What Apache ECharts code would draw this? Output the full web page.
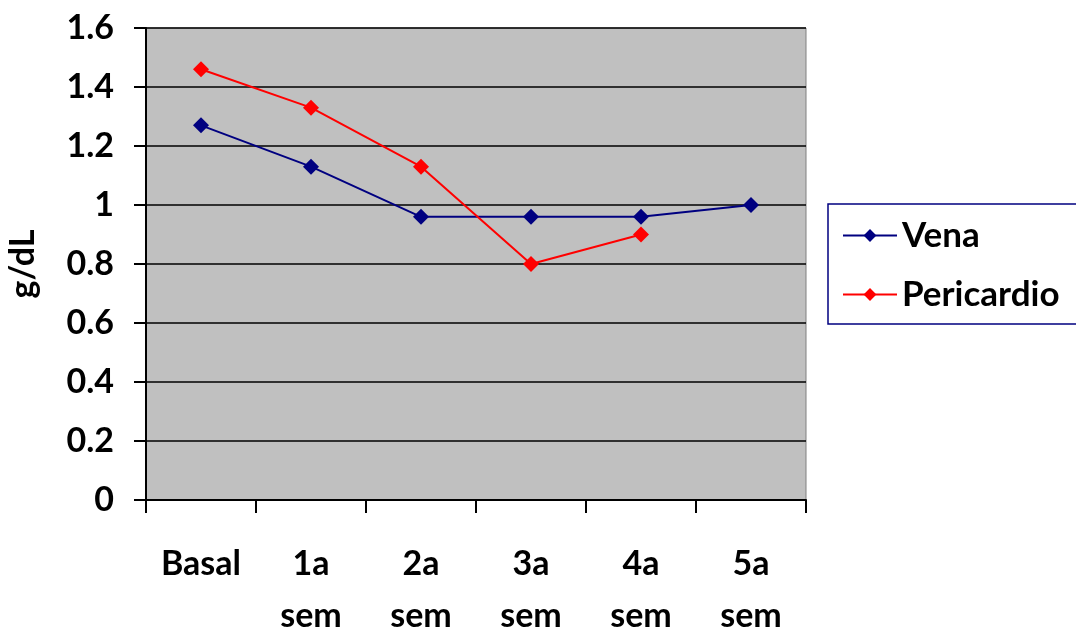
<!DOCTYPE html>
<html>
<head>
<meta charset="utf-8">
<script src="https://cdn.jsdelivr.net/npm/echarts@6/dist/echarts.min.js"></script>
<style>
  html, body { margin: 0; padding: 0; background: #ffffff; }
  #chart { width: 1076px; height: 631px; }
</style>
</head>
<body>
<div id="chart"></div>
<script>
// Weekly measurements (g/dL) for the two sampling sites
const categories = ['Basal', '1a\nsem', '2a\nsem', '3a\nsem', '4a\nsem', '5a\nsem'];
const vena = [1.27, 1.13, 0.96, 0.96, 0.96, 1.00];
const pericardio = [1.46, 1.33, 1.13, 0.80, 0.90, null];
const yTicks = [0, 0.2, 0.4, 0.6, 0.8, 1, 1.2, 1.4, 1.6];

const FONT = 'Lato';
const chart = echarts.init(document.getElementById('chart'));

chart.setOption({
  animation: false,
  backgroundColor: '#ffffff',
  textStyle: { fontFamily: FONT, color: '#000000', fontWeight: 'bold' },
  grid: {
    left: 146, right: 270, top: 28, bottom: 131,
    outerBoundsMode: 'none',
    containLabel: false,
    show: true,
    backgroundColor: '#c0c0c0',
    borderColor: '#808080',
    borderWidth: 1
  },
  legend: {
    orient: 'vertical',
    left: 828, top: 204,
    data: ['Vena', 'Pericardio'],
    itemWidth: 54, itemHeight: 16,
    itemGap: 24,
    padding: [14, 40, 12, 14],
    borderColor: '#000080',
    borderWidth: 1.5,
    textStyle: { fontFamily: FONT, fontWeight: 'bold', fontSize: 35, color: '#000000' }
  },
  xAxis: {
    type: 'category',
    data: categories,
    boundaryGap: true,
    axisLine: { lineStyle: { color: '#000000', width: 2 } },
    axisTick: { show: true, length: 13, inside: false, alignWithLabel: false,
                lineStyle: { color: '#000000', width: 2 } },
    axisLabel: { fontFamily: FONT, fontWeight: 'bold', fontSize: 34, color: '#000000',
                 margin: 38, lineHeight: 52, interval: 0 },
    splitLine: { show: false }
  },
  yAxis: {
    type: 'value',
    min: 0, max: 1.6, interval: 0.2,
    name: 'g/dL',
    nameLocation: 'middle',
    nameGap: 106,
    nameRotate: 90,
    nameTextStyle: { fontFamily: FONT, fontWeight: 'bold', fontSize: 34, color: '#000000' },
    axisLine: { show: true, lineStyle: { color: '#000000', width: 2 } },
    axisTick: { show: true, length: 12, lineStyle: { color: '#000000', width: 2 } },
    axisLabel: {
      fontFamily: FONT, fontWeight: 'bold', fontSize: 34, color: '#000000', margin: 32,
      formatter: v => {
        const t = yTicks.find(k => Math.abs(k - v) < 1e-9);
        return t === undefined ? '' : String(t);
      }
    },
    splitLine: { show: true, lineStyle: { color: '#000000', width: 1.5 } }
  },
  series: [
    {
      name: 'Vena', type: 'line', data: vena,
      symbol: 'diamond', symbolSize: 16,
      itemStyle: { color: '#000080' },
      lineStyle: { color: '#000080', width: 2 }
    },
    {
      name: 'Pericardio', type: 'line', data: pericardio,
      symbol: 'diamond', symbolSize: 16,
      connectNulls: false,
      itemStyle: { color: '#ff0000' },
      lineStyle: { color: '#ff0000', width: 2 }
    }
  ]
});
</script>
</body>
</html>
